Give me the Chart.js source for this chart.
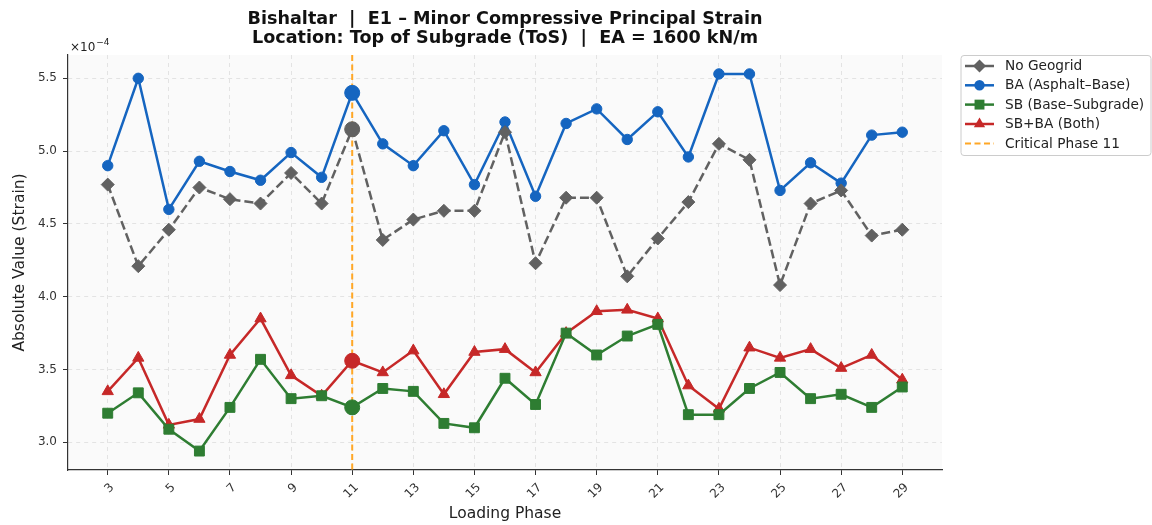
<!DOCTYPE html>
<html>
<head>
<meta charset="utf-8">
<script src="https://cdn.jsdelivr.net/npm/chart.js@4.4.1/dist/chart.umd.min.js"></script>
<style>
  html, body { margin: 0; padding: 0; background: #fff; }
  canvas { display: block; }
</style>
</head>
<body>
<canvas id="strainChart" width="1152" height="525"></canvas>
<script>
// Loading phases (x) and values in units of 1e-4
const phases = [3, 4, 5, 6, 7, 8, 9, 10, 11, 12, 13, 14, 15, 16, 17, 18, 19, 20, 21, 22, 23, 24, 25, 26, 27, 28, 29];
const noGeogrid = [4.77, 4.21, 4.46, 4.75, 4.67, 4.64, 4.85, 4.64, 5.15, 4.39, 4.53, 4.59, 4.59, 5.13, 4.23, 4.68, 4.68, 4.14, 4.40, 4.65, 5.05, 4.94, 4.08, 4.64, 4.73, 4.42, 4.46];
const ba        = [4.90, 5.50, 4.60, 4.93, 4.86, 4.80, 4.99, 4.82, 5.40, 5.05, 4.90, 5.14, 4.77, 5.20, 4.69, 5.19, 5.29, 5.08, 5.27, 4.96, 5.53, 5.53, 4.73, 4.92, 4.78, 5.11, 5.13];
const sb        = [3.20, 3.34, 3.09, 2.94, 3.24, 3.57, 3.30, 3.32, 3.24, 3.37, 3.35, 3.13, 3.10, 3.44, 3.26, 3.75, 3.60, 3.73, 3.81, 3.19, 3.19, 3.37, 3.48, 3.30, 3.33, 3.24, 3.38];
const sbba      = [3.35, 3.58, 3.12, 3.16, 3.60, 3.85, 3.46, 3.32, 3.56, 3.48, 3.63, 3.33, 3.62, 3.64, 3.48, 3.75, 3.90, 3.91, 3.85, 3.39, 3.23, 3.65, 3.58, 3.64, 3.51, 3.60, 3.43];

const xTicks = [3, 5, 7, 9, 11, 13, 15, 17, 19, 21, 23, 25, 27, 29];
const yTicks = [3.0, 3.5, 4.0, 4.5, 5.0, 5.5];
const criticalPhase = 11;

const FONT = "'DejaVu Sans', sans-serif";

function makeSet(label, values, color, shape, size, dash) {
    return {
        label: label,
        data: phases.map((p, i) => ({ x: p, y: values[i] })),
        borderColor: color,
        backgroundColor: color,
        borderWidth: 2.5,
        borderDash: dash || [],
        pointStyle: ctx => phases[ctx.dataIndex] === criticalPhase ? 'circle' : shape,
        pointRadius: ctx => phases[ctx.dataIndex] === criticalPhase ? 7.5 : size,
        pointHoverRadius: ctx => phases[ctx.dataIndex] === criticalPhase ? 7.5 : size,
        pointBorderWidth: 1,
        pointBackgroundColor: color,
        pointBorderColor: color,
        tension: 0,
        shape: shape,
        size: size
    };
}

const datasets = [
    makeSet('No Geogrid', noGeogrid, '#616161', 'rectRot', 6.5, [9, 4]),
    makeSet('BA (Asphalt–Base)', ba, '#1565C0', 'circle', 5.2),
    makeSet('SB (Base–Subgrade)', sb, '#2E7D32', 'rect', 7),
    makeSet('SB+BA (Both)', sbba, '#C62828', 'triangle', 6.5)
];

// small marker drawer for the legend
function drawMarker(ctx, shape, x, y, r, color) {
    ctx.save();
    ctx.fillStyle = color;
    ctx.beginPath();
    if (shape === 'circle') {
        ctx.arc(x, y, r, 0, Math.PI * 2);
    } else if (shape === 'rectRot') {
        ctx.moveTo(x, y - r); ctx.lineTo(x + r, y); ctx.lineTo(x, y + r); ctx.lineTo(x - r, y);
    } else if (shape === 'rect') {
        const h = r * Math.SQRT1_2;
        ctx.rect(x - h, y - h, 2 * h, 2 * h);
    } else if (shape === 'triangle') {
        for (let k = 0; k < 3; k++) {
            const a = k * 2 * Math.PI / 3;
            const px = x + Math.sin(a) * r, py = y - Math.cos(a) * r;
            k ? ctx.lineTo(px, py) : ctx.moveTo(px, py);
        }
    }
    ctx.closePath();
    ctx.fill();
    ctx.restore();
}

const decorPlugin = {
    id: 'decor',
    beforeDraw(chart) {
        const { ctx, chartArea: a } = chart;
        ctx.save();
        ctx.fillStyle = '#fafafa';
        ctx.fillRect(a.left, a.top, a.right - a.left, a.bottom - a.top);
        ctx.restore();
    },
    beforeDatasetsDraw(chart) {
        // critical phase line
        const { ctx, chartArea: a, scales } = chart;
        const x = scales.x.getPixelForValue(criticalPhase);
        ctx.save();
        ctx.strokeStyle = '#FFA726';
        ctx.lineWidth = 2;
        ctx.setLineDash([6, 3.5]);
        ctx.beginPath();
        ctx.moveTo(x, a.top);
        ctx.lineTo(x, a.bottom);
        ctx.stroke();
        ctx.restore();
    },
    afterDraw(chart) {
        const { ctx, chartArea: a } = chart;
        ctx.save();
        // exponent label
        ctx.fillStyle = '#222';
        ctx.textBaseline = 'alphabetic';
        ctx.textAlign = 'left';
        ctx.font = '12px ' + FONT;
        ctx.fillText('×10', a.left + 2, 51);
        const w = ctx.measureText('×10').width;
        ctx.font = '9px ' + FONT;
        ctx.fillText('−4', a.left + 2 + w + 1, 45);

        // legend
        const lx = 961, ly = 55.5, lw = 190, lh = 100;
        ctx.fillStyle = 'rgba(255,255,255,0.85)';
        ctx.strokeStyle = '#cccccc';
        ctx.lineWidth = 1;
        ctx.beginPath();
        ctx.roundRect(lx, ly, lw, lh, 3);
        ctx.fill();
        ctx.stroke();

        const rows = [66, 85.3, 104.6, 124, 143.5];
        ctx.font = '13.7px ' + FONT;
        ctx.textBaseline = 'middle';
        datasets.forEach((ds, i) => {
            const y = rows[i];
            ctx.strokeStyle = ds.borderColor;
            ctx.lineWidth = 2.5;
            ctx.setLineDash([]);
            ctx.beginPath();
            ctx.moveTo(965, y); ctx.lineTo(994, y);
            ctx.stroke();
            drawMarker(ctx, ds.shape, 979.5, y, ds.size, ds.borderColor);
            ctx.fillStyle = '#222';
            ctx.fillText(ds.label, 1005, y + 0.5);
        });
        const y = rows[4];
        ctx.strokeStyle = '#FFA726';
        ctx.lineWidth = 2;
        ctx.setLineDash([6, 3.5]);
        ctx.beginPath();
        ctx.moveTo(965, y); ctx.lineTo(994, y);
        ctx.stroke();
        ctx.fillStyle = '#222';
        ctx.fillText('Critical Phase 11', 1005, y + 0.5);
        ctx.restore();
    }
};

new Chart(document.getElementById('strainChart'), {
    type: 'line',
    data: { datasets: datasets },
    options: {
        responsive: false,
        devicePixelRatio: 1,
        animation: false,
        layout: { padding: { top: 0, right: 210, left: 0, bottom: 0 } },
        plugins: {
            legend: { display: false },
            tooltip: { enabled: false },
            title: {
                display: true,
                fullSize: false,
                text: ['Bishaltar  |  E1 – Minor Compressive Principal Strain',
                       'Location: Top of Subgrade (ToS)  |  EA = 1600 kN/m'],
                color: '#111',
                font: { family: FONT, size: 17.6, weight: 'bold', lineHeight: 1.08 },
                padding: { top: 9.5, bottom: 7.5 }
            }
        },
        scales: {
            x: {
                type: 'linear',
                min: 1.7,
                max: 30.3,
                afterFit: s => { s.height = 55; },
                afterBuildTicks: s => { s.ticks = xTicks.map(v => ({ value: v })); },
                ticks: {
                    font: { family: FONT, size: 12 },
                    color: '#333',
                    minRotation: 45,
                    maxRotation: 45,
                    padding: 5.5,
                    labelOffset: 4.5,
                    callback: v => String(v)
                },
                grid: { color: '#e3e3e3', lineWidth: 1, tickColor: '#333', tickLength: 5 },
                border: { color: '#333', width: 1.2, dash: [4, 4] },
                title: {
                    display: true,
                    text: 'Loading Phase',
                    color: '#222',
                    font: { family: FONT, size: 15.5, lineHeight: 1.2 },
                    padding: { top: 0, bottom: 2 }
                }
            },
            y: {
                type: 'linear',
                min: 2.81,
                max: 5.66,
                afterFit: s => { s.width = 68; },
                afterBuildTicks: s => { s.ticks = yTicks.map(v => ({ value: v })); },
                ticks: {
                    font: { family: FONT, size: 12 },
                    color: '#333',
                    padding: 6,
                    callback: v => v.toFixed(1)
                },
                grid: { color: '#e3e3e3', lineWidth: 1, tickColor: '#333', tickLength: 5 },
                border: { color: '#333', width: 1.2, dash: [4, 4] },
                title: {
                    display: true,
                    text: 'Absolute Value (Strain)',
                    color: '#222',
                    font: { family: FONT, size: 15.5, lineHeight: 1.2 },
                    padding: { top: 10.5, bottom: 0 }
                }
            }
        }
    },
    plugins: [decorPlugin]
});
</script>
</body>
</html>
